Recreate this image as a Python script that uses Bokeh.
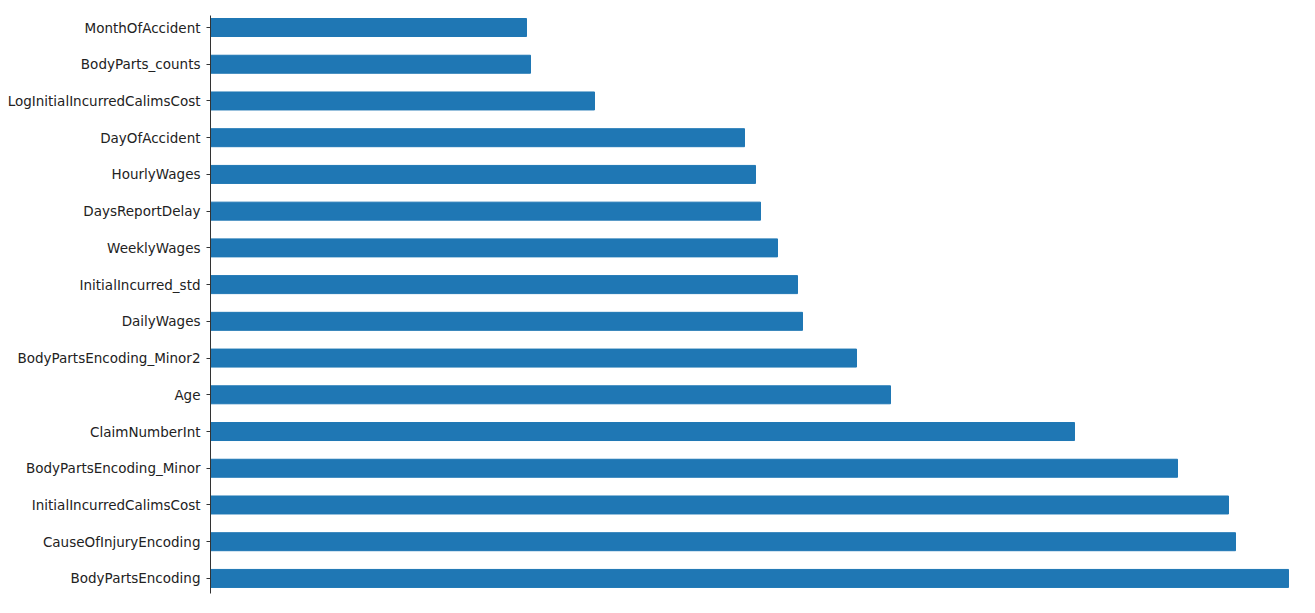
from bokeh.plotting import figure
from bokeh.models import Range1d, FixedTicker
from bokeh.embed import file_html
from bokeh.resources import INLINE

# feature importances, listed bottom to top
features = [
    "BodyPartsEncoding",
    "CauseOfInjuryEncoding",
    "InitialIncurredCalimsCost",
    "BodyPartsEncoding_Minor",
    "ClaimNumberInt",
    "Age",
    "BodyPartsEncoding_Minor2",
    "DailyWages",
    "InitialIncurred_std",
    "WeeklyWages",
    "DaysReportDelay",
    "HourlyWages",
    "DayOfAccident",
    "LogInitialIncurredCalimsCost",
    "BodyParts_counts",
    "MonthOfAccident",
]
importances = [
    0.1078, 0.1025, 0.1018, 0.0967, 0.0864, 0.0680, 0.0646, 0.0592,
    0.0587, 0.0567, 0.0550, 0.0545, 0.0534, 0.0384, 0.0320, 0.0316,
]

ypos = list(range(len(features)))

p = figure(width=1299, height=597, output_backend="svg", toolbar_location=None,
           x_range=Range1d(0, max(importances) * 1089 / 1078),
           y_range=Range1d(-0.41, len(features) - 1 + 0.327),
           min_border_left=210, min_border_top=15, min_border_bottom=4,
           min_border_right=0)

p.hbar(y=ypos, right=importances, left=0, height=0.49, color="#1f77b4")

p.xaxis.visible = False
p.xgrid.visible = False
p.ygrid.visible = False
p.outline_line_color = None

ax = p.yaxis[0]
ax.ticker = FixedTicker(ticks=ypos)
ax.major_label_overrides = {i: f for i, f in zip(ypos, features)}
ax.minor_tick_line_color = None
ax.major_tick_in = 0
ax.major_tick_out = 4
ax.major_tick_line_color = "#333333"
ax.axis_line_color = "#333333"
ax.major_label_text_font = "DejaVu Sans"
ax.major_label_text_font_size = "13.5px"
ax.major_label_text_color = "#222222"
ax.major_label_standoff = 6

open("out.html", "w").write(file_html(p, INLINE))
